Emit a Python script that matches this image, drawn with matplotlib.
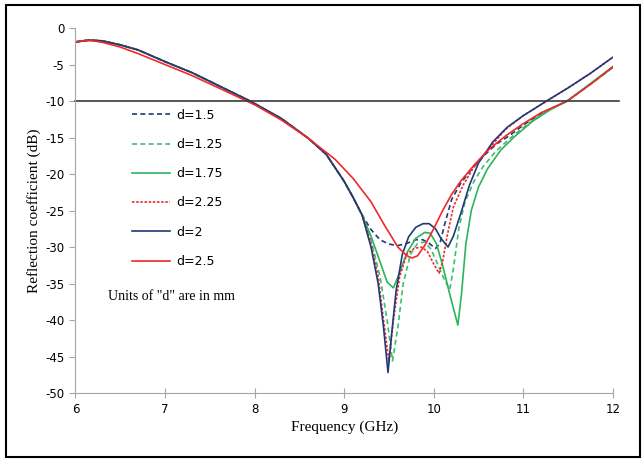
import numpy as np
import matplotlib
matplotlib.use("Agg")
import matplotlib.pyplot as plt
from matplotlib.patches import Rectangle

plt.rcParams["axes.unicode_minus"] = False

# shared low-frequency part (all curves nearly identical up to ~9 GHz)
f_common = [6.0, 6.15, 6.3, 6.5, 6.7, 7.0, 7.3, 7.6, 7.95, 8.3, 8.6, 8.8, 9.0, 9.1, 9.2]
s_common = [-1.9, -1.65, -1.75, -2.3, -3.0, -4.6, -6.1, -7.9, -10.0, -12.4, -15.1, -17.3, -21.0, -23.2, -25.6]

# d=1.5 (navy dashed)
f_15 = [9.3, 9.4, 9.5, 9.6, 9.7, 9.8, 9.88, 9.95, 10.02, 10.07, 10.12, 10.2, 10.3, 10.41, 10.55, 10.7,
        10.85, 11.0, 11.2, 11.49, 11.75, 12.0]
s_15 = [-27.6, -29.0, -29.6, -29.8, -29.5, -29.0, -29.0, -29.5, -30.2, -29.5, -27.0, -23.5, -21.3, -19.5,
        -17.6, -15.9, -14.7, -13.3, -11.7, -10.0, -7.7, -5.4]
# d=1.25 (green dashed)
f_125 = [9.3, 9.4, 9.48, 9.54, 9.6, 9.66, 9.74, 9.82, 9.9, 9.97, 10.05, 10.12, 10.18, 10.22, 10.28, 10.35,
         10.45, 10.55, 10.7, 10.9, 11.1, 11.3, 11.49, 11.75, 12.0]
s_125 = [-29.0, -34.0, -40.0, -45.6, -41.0, -35.0, -31.0, -29.5, -29.3, -30.3, -32.5, -34.5, -35.8, -33.0,
         -27.5, -23.8, -21.0, -19.0, -16.8, -14.6, -12.7, -11.1, -10.0, -7.7, -5.4]
# d=1.75 (green solid)
f_175 = [9.3, 9.4, 9.48, 9.55, 9.62, 9.7, 9.8, 9.9, 9.96, 10.03, 10.1, 10.18, 10.27, 10.31, 10.36, 10.42,
         10.5, 10.6, 10.75, 10.9, 11.1, 11.3, 11.49, 11.75, 12.0]
s_175 = [-28.5, -32.0, -34.8, -35.6, -33.5, -30.8, -28.8, -28.0, -28.1, -29.5, -32.5, -36.5, -40.7, -36.5,
         -29.5, -25.0, -21.8, -19.3, -16.7, -14.9, -12.8, -11.2, -10.0, -7.6, -5.3]
# d=2.25 (red dotted)
f_225 = [9.3, 9.38, 9.44, 9.5, 9.55, 9.62, 9.7, 9.78, 9.86, 9.93, 10.0, 10.06, 10.1, 10.15, 10.22, 10.33,
         10.45, 10.6, 10.8, 11.0, 11.26, 11.5, 11.75, 12.0]
s_225 = [-29.5, -34.0, -40.0, -45.7, -40.0, -34.0, -31.0, -30.2, -30.0, -30.6, -32.3, -33.6, -32.0, -28.5,
         -24.5, -21.5, -19.0, -16.8, -13.9, -12.0, -10.0, -8.2, -6.2, -4.0]
# d=2 (navy solid)
f_2 = [9.3, 9.38, 9.44, 9.49, 9.53, 9.58, 9.65, 9.72, 9.8, 9.88, 9.95, 10.02, 10.08, 10.16, 10.22, 10.3,
       10.4, 10.5, 10.66, 10.82, 11.0, 11.26, 11.5, 11.75, 12.0]
s_2 = [-30.0, -35.0, -41.0, -47.2, -42.0, -36.0, -31.0, -28.6, -27.3, -26.8, -26.8, -27.5, -28.8, -30.0,
       -28.5, -25.5, -21.5, -18.5, -15.6, -13.6, -12.0, -10.0, -8.2, -6.2, -4.0]
# d=2.5 (red solid) has its own shape from the start
f_25 = [6.0, 6.1, 6.2, 6.3, 6.5, 6.7, 7.0, 7.3, 7.6, 8.0, 8.3, 8.6, 8.9, 9.1, 9.3, 9.45, 9.6, 9.7, 9.76,
        9.82, 9.9, 10.0, 10.1, 10.2, 10.3, 10.45, 10.6, 10.8, 11.0, 11.2, 11.49, 11.75, 12.0]
s_25 = [-1.9, -1.7, -1.75, -1.95, -2.6, -3.5, -5.0, -6.5, -8.2, -10.5, -12.6, -15.1, -18.0, -20.6, -23.8,
        -27.0, -30.0, -31.2, -31.5, -31.2, -29.8, -27.5, -25.0, -22.8, -21.0, -18.8, -16.8, -14.8, -13.1,
        -11.6, -10.0, -7.7, -5.3]

navy = "#1f3a78"
green = "#2db35c"
red = "#f0282a"

fig = plt.figure(figsize=(6.43, 4.59), dpi=100)
ax = fig.add_axes([0.1174, 0.1438, 0.8356, 0.795])

series = [
    ("d=1.5", f_15, s_15, navy, (0, (3, 2))),
    ("d=1.25", f_125, s_125, "#3cbf6e", (0, (3, 2))),
    ("d=1.75", f_175, s_175, green, "-"),
    ("d=2.25", f_225, s_225, red, (0, (1.5, 1))),
    ("d=2", f_2, s_2, navy, "-"),
]
for lab, fx, sx, col, ls in series:
    ax.plot(f_common + fx, s_common + sx, color=col, ls=ls, lw=1.2, label=lab)
ax.plot(f_25, s_25, color=red, lw=1.2, label="d=2.5")

# -10 dB reference line, runs a bit past the last tick
ax.plot([6, 12.07], [-10, -10], color="#3a3a3a", lw=1.2, clip_on=False)

ax.set_xlim(6, 12)
ax.set_ylim(-50, 0)
ax.set_xticks(range(6, 13))
ax.set_yticks(range(-50, 1, 5))
for s in ("top", "right"):
    ax.spines[s].set_visible(False)
for s in ("left", "bottom"):
    ax.spines[s].set_color("#a6a6a6")
ax.tick_params(axis="x", direction="inout", length=7, color="#a6a6a6", labelsize=8.5, pad=4)
ax.tick_params(axis="y", direction="out", length=4, color="#a6a6a6", labelsize=8.5, pad=4)

ax.set_xlabel("Frequency (GHz)", family="Liberation Serif", fontsize=11, labelpad=3)
ax.set_ylabel("Reflection coefficient (dB)", family="Liberation Serif", fontsize=11, labelpad=3)

leg = ax.legend(loc="upper left", bbox_to_anchor=(0.085, 0.81), frameon=False, fontsize=9,
                handlelength=3.0, labelspacing=1.3, handletextpad=0.5)
ax.text(0.06, 0.265, 'Units of "d" are in mm', transform=ax.transAxes,
        family="Liberation Serif", fontsize=10, va="center")

fig.patches.append(Rectangle((6 / 643, 2 / 459), 634 / 643, 452 / 459, transform=fig.transFigure,
                             fill=False, edgecolor="black", lw=1.5))

fig.savefig("out.png", dpi=100)
